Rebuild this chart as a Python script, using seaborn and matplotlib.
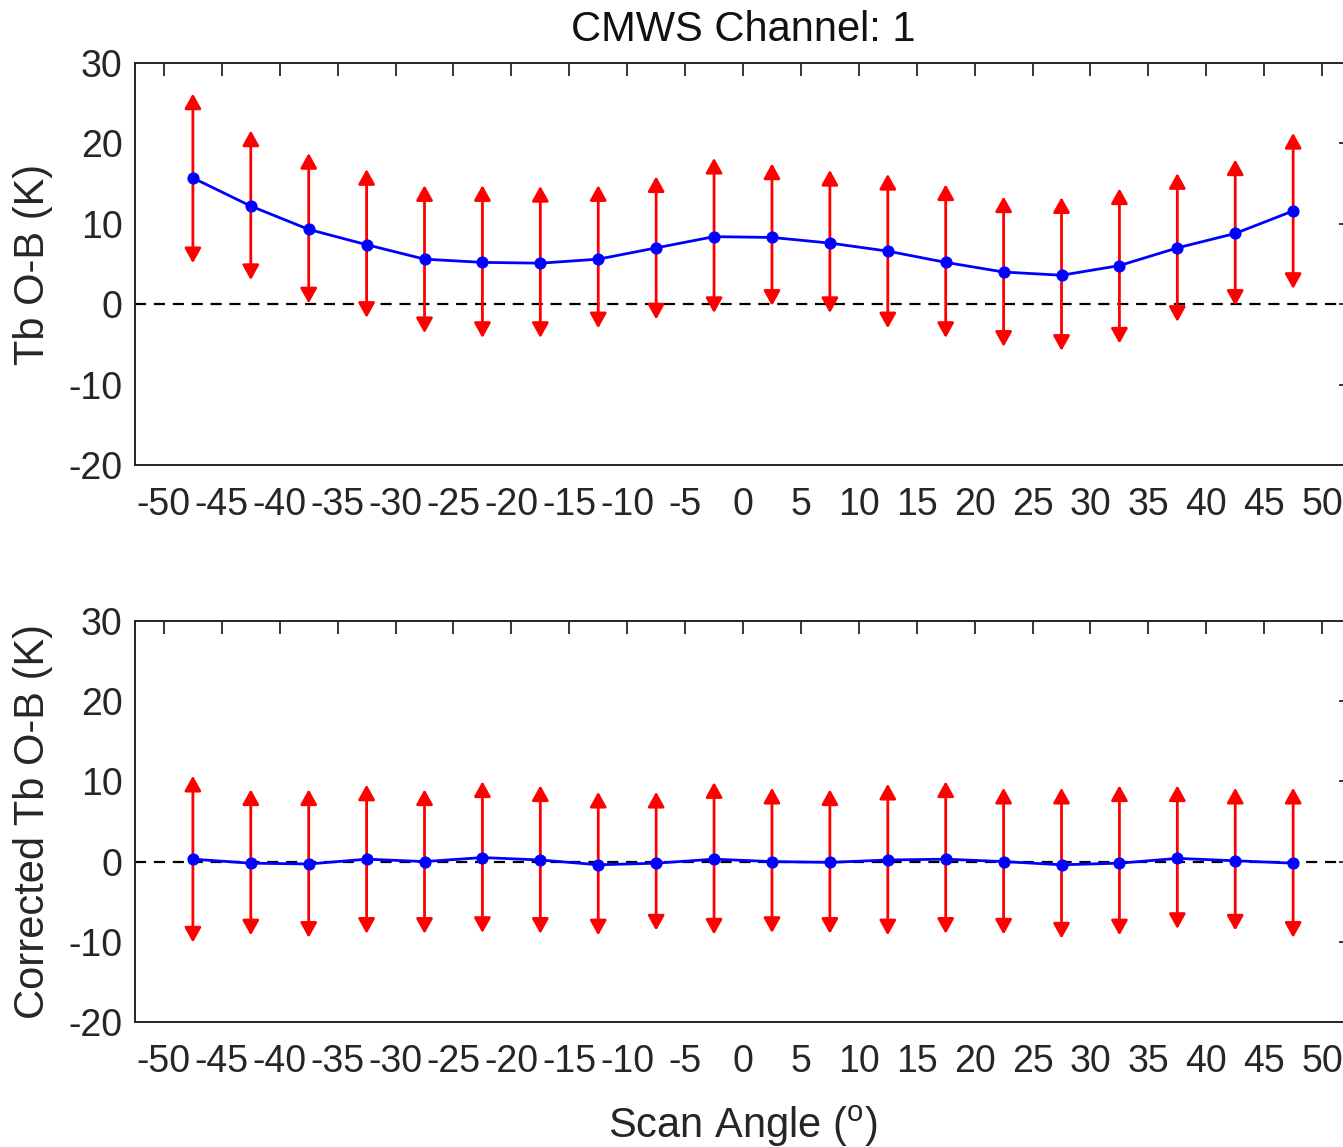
import matplotlib
matplotlib.use("Agg")
import matplotlib.pyplot as plt
import seaborn as sns
import pandas as pd

# scan angle bins (centres)
angles = [-47.5, -42.5, -37.5, -32.5, -27.5, -22.5, -17.5, -12.5, -7.5, -2.5,
          2.5, 7.5, 12.5, 17.5, 22.5, 27.5, 32.5, 37.5, 42.5, 47.5]

# raw O-B: mean and arrow ends (mean +/- std)
raw_mean = [15.7, 12.2, 9.3, 7.4, 5.6, 5.2, 5.1, 5.6, 7.0, 8.4,
            8.3, 7.6, 6.6, 5.2, 4.0, 3.6, 4.8, 7.0, 8.8, 11.6]
raw_upper = [26.2, 21.6, 18.8, 16.8, 14.8, 14.8, 14.7, 14.8, 15.9, 18.2,
             17.5, 16.7, 16.2, 14.9, 13.4, 13.3, 14.4, 16.3, 18.0, 21.3]
raw_lower = [5.1, 3.0, 0.1, -1.7, -3.6, -4.2, -4.2, -3.0, -1.9, -1.1,
             -0.2, -1.1, -3.0, -4.2, -5.3, -5.8, -4.9, -2.2, -0.2, 1.9]

# bias corrected O-B
cor_mean = [0.3, -0.2, -0.3, 0.3, 0.0, 0.5, 0.2, -0.4, -0.2, 0.3,
            0.0, -0.1, 0.2, 0.3, 0.0, -0.4, -0.2, 0.4, 0.1, -0.2]
cor_upper = [10.7, 9.0, 9.0, 9.6, 9.0, 10.0, 9.5, 8.7, 8.7, 9.9,
             9.2, 9.0, 9.7, 10.0, 9.2, 9.2, 9.5, 9.5, 9.2, 9.2]
cor_lower = [-10.1, -9.2, -9.5, -9.0, -9.0, -8.9, -9.0, -9.2, -8.6, -9.1,
             -8.9, -9.0, -9.2, -9.0, -9.1, -9.6, -9.2, -8.4, -8.6, -9.5]

xticks = list(range(-50, 55, 5))
yticks = [-20, -10, 0, 10, 20, 30]

sns.set_style("white")
plt.rcParams["font.family"] = ["Liberation Sans", "DejaVu Sans"]
plt.rcParams["mathtext.fontset"] = "custom"
plt.rcParams["mathtext.rm"] = "Liberation Sans"
plt.rcParams["axes.unicode_minus"] = False

fig = plt.figure(figsize=(13.43, 11.47), dpi=100)
ax1 = fig.add_axes([0.1005, 0.5946, 0.9055, 0.3505])
ax2 = fig.add_axes([0.1005, 0.1090, 0.9055, 0.3496])

panels = [(ax1, raw_mean, raw_upper, raw_lower, "Tb O-B (K)"),
          (ax2, cor_mean, cor_upper, cor_lower, "Corrected Tb O-B (K)")]

for ax, mean, upper, lower, ylab in panels:
    df = pd.DataFrame({"angle": angles, "mean": mean,
                       "upper": upper, "lower": lower})
    ax.axhline(0, color="black", lw=1.6, ls=(0, (5, 3.5)), zorder=1)
    for _, r in df.iterrows():
        ax.annotate("", xy=(r["angle"], r["upper"]), xytext=(r["angle"], r["lower"]),
                    arrowprops=dict(arrowstyle="<|-|>,head_length=0.9,head_width=0.5",
                                    color="#ff0000", lw=2, shrinkA=0, shrinkB=0,
                                    mutation_scale=10),
                    zorder=2)
    sns.lineplot(data=df, x="angle", y="mean", ax=ax, color="#0000ff", lw=2,
                 marker="o", markersize=8, markeredgecolor="#0000ff", zorder=3)

    ax.set_xlim(-52.5, 52.5)
    ax.set_ylim(-20, 30)
    ax.set_xticks(xticks)
    ax.set_xticklabels([str(t) for t in xticks])
    ax.set_yticks(yticks)
    ax.tick_params(direction="in", length=9, width=1.3, top=True, right=True,
                   labelsize=27, colors="#262626")
    ax.tick_params(axis="x", pad=16)
    ax.tick_params(axis="y", pad=9)
    for s in ax.spines.values():
        s.set_color("#262626")
        s.set_linewidth(1.4)
    ax.set_ylabel(ylab, fontsize=30, color="#262626", labelpad=11)
    ax.set_xlabel("")

ax1.set_title("CMWS Channel: 1", fontsize=30, color="#111111", pad=16)
ax2.set_xlabel("Scan Angle ($^{\\rm o}$)", fontsize=30, color="#262626", labelpad=17)

fig.savefig("out.png", dpi=100)
